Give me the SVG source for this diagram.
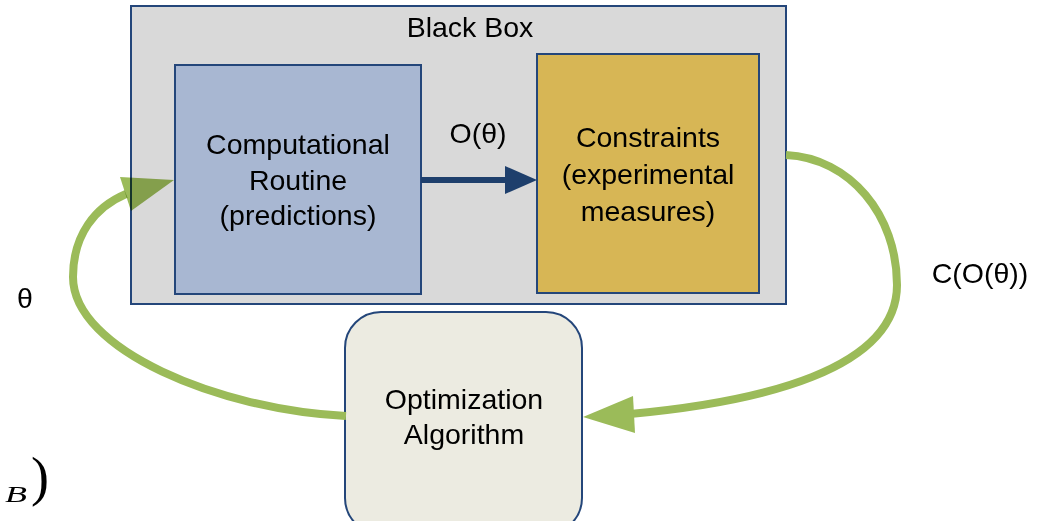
<svg xmlns="http://www.w3.org/2000/svg" width="1046" height="521" viewBox="0 0 1046 521">
  <style>
    .lbl { font-family: "Liberation Sans", Arial, sans-serif; font-size: 28.5px; fill: #000; text-anchor: middle; }
    .box { stroke: #24467a; stroke-width: 2; }
    .loop { fill: none; stroke: #9bbb59; stroke-width: 8; }
    .head { fill: #9bbb59; }
    .math { font-family: "Liberation Serif", "Times New Roman", serif; fill: #000; }
  </style>
  <rect width="1046" height="521" fill="#ffffff"/>

  <g id="black-box">
    <rect class="box" x="131" y="6" width="655" height="298" fill="#d9d9d9"/>
    <text class="lbl" x="470" y="37">Black Box</text>
  </g>

  <g id="computational-routine">
    <rect class="box" x="175" y="65" width="246" height="229" fill="#a8b7d2"/>
    <text class="lbl" x="298" y="154">Computational</text>
    <text class="lbl" x="298" y="190">Routine</text>
    <text class="lbl" x="298" y="225">(predictions)</text>
  </g>

  <g id="constraints">
    <rect class="box" x="537" y="54" width="222" height="239" fill="#d7b655"/>
    <text class="lbl" x="648" y="147">Constraints</text>
    <text class="lbl" x="648" y="184">(experimental</text>
    <text class="lbl" x="648" y="221">measures)</text>
  </g>

  <g id="optimization-algorithm">
    <rect class="box" x="345" y="312" width="237" height="222" rx="36" ry="36" fill="#ecebe1"/>
    <text class="lbl" x="464" y="409">Optimization</text>
    <text class="lbl" x="464" y="444">Algorithm</text>
  </g>

  <g id="connectors">
    <!-- prediction flow into constraints -->
    <line x1="421" y1="180" x2="507" y2="180" stroke="#1e3f6c" stroke-width="6"/>
    <polygon points="505,166 537,180 505,194" fill="#1e3f6c"/>
    <text class="lbl" x="478" y="143">O(θ)</text>

    <!-- cost back to the optimizer -->
    <path class="loop" d="M 786 155 C 850 158, 897 215, 897 285 C 897 370, 760 402, 630 414"/>
    <polygon class="head" points="583,417 633,396 635,433"/>
    <text class="lbl" x="980" y="283">C(O(θ))</text>

    <!-- new parameters into the routine -->
    <path class="loop" d="M 346 416 C 220 410, 73 350, 73 277 C 73 235, 95 207, 126 194"/>
    <polygon class="head" points="120,177 174,180 131,211" style="mix-blend-mode: multiply"/>
    <text class="lbl" x="25" y="308">θ</text>
  </g>

  <g id="caption">
    <text class="math" x="5" y="502" font-size="23" font-style="italic" textLength="22" lengthAdjust="spacingAndGlyphs">B</text>
    <text class="math" x="31" y="495" font-size="54">)</text>
  </g>
</svg>
